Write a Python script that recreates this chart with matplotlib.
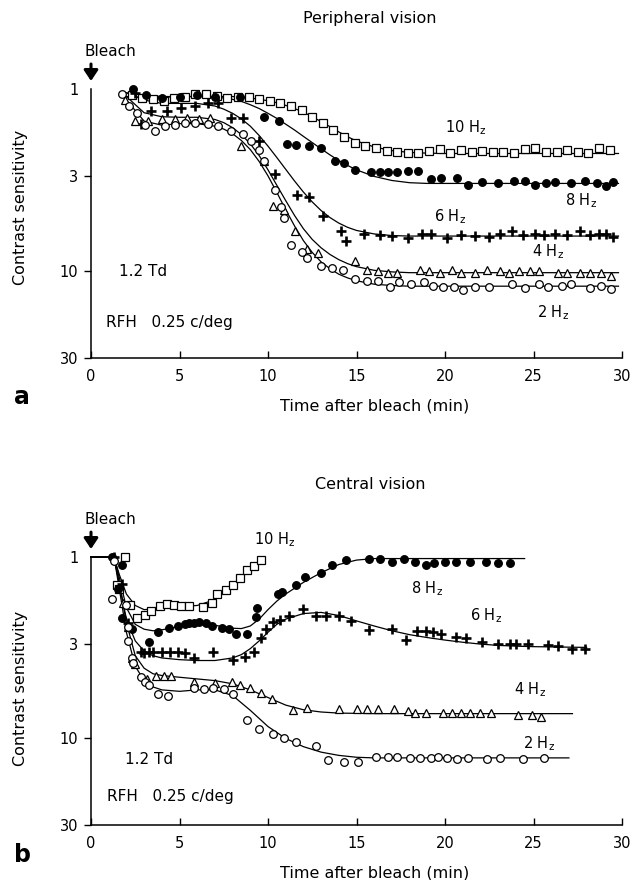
import matplotlib
matplotlib.use('Agg')
import matplotlib.pyplot as plt
from matplotlib.ticker import NullLocator, FixedLocator

plt.rcParams['font.family'] = ['DejaVu Sans']
plt.rcParams['mathtext.default'] = 'regular'

# ---------------- panel a : peripheral vision ----------------
t10a = [2.3, 2.9, 3.5, 4.1, 4.7, 5.3, 5.9, 6.5, 7.1, 7.7, 8.3, 8.9, 9.5, 10.1, 10.7, 11.3,
        11.9, 12.5, 13.1, 13.7, 14.3, 14.9, 15.5, 16.1, 16.7, 17.3, 17.9, 18.5, 19.1, 19.7,
        20.3, 20.9, 21.5, 22.1, 22.7, 23.3, 23.9, 24.5, 25.1, 25.7, 26.3, 26.9, 27.5, 28.1,
        28.7, 29.3]
cs10a = [1.08, 1.12, 1.13, 1.16, 1.12, 1.10, 1.07, 1.06, 1.09, 1.12, 1.10, 1.11, 1.14, 1.16,
         1.19, 1.24, 1.31, 1.42, 1.53, 1.68, 1.84, 1.97, 2.05, 2.12, 2.18, 2.22, 2.24, 2.25,
         2.20, 2.14, 2.24, 2.16, 2.22, 2.18, 2.21, 2.22, 2.25, 2.14, 2.10, 2.22, 2.22, 2.15,
         2.22, 2.24, 2.12, 2.16]

t8a = [2.4, 3.1, 4.0, 5.0, 6.0, 7.0, 8.4, 9.8, 10.6, 11.1, 11.6, 12.3, 13.0, 13.8, 14.3,
       14.9, 15.8, 16.3, 16.8, 17.3, 17.9, 18.5, 19.2, 19.8, 20.7, 21.3, 22.1, 23.0, 23.9,
       24.5, 25.1, 25.7, 26.2, 27.1, 27.9, 28.6, 29.1, 29.5]
cs8a = [1.00, 1.08, 1.12, 1.10, 1.08, 1.10, 1.10, 1.42, 1.50, 2.00, 2.02, 2.06, 2.10, 2.50,
        2.55, 2.80, 2.85, 2.85, 2.85, 2.85, 2.83, 2.83, 3.12, 3.08, 3.10, 3.35, 3.25, 3.27,
        3.20, 3.20, 3.35, 3.27, 3.25, 3.27, 3.20, 3.27, 3.40, 3.25]

t6a = [2.5, 2.8, 3.4, 4.3, 5.1, 5.9, 6.6, 7.2, 7.9, 8.6, 9.5, 10.4, 11.65, 12.3, 13.1, 14.1,
       14.4, 15.4, 16.3, 17.0, 17.9, 18.7, 19.2, 20.1, 20.9, 21.7, 22.5, 23.1, 23.8, 24.4,
       25.1, 25.6, 26.2, 26.9, 27.6, 28.2, 28.7, 29.1, 29.5]
cs6a = [1.05, 1.56, 1.32, 1.32, 1.27, 1.24, 1.19, 1.20, 1.44, 1.44, 1.92, 2.94, 3.84, 3.90,
        5.00, 6.00, 6.80, 6.25, 6.30, 6.40, 6.60, 6.25, 6.25, 6.60, 6.35, 6.45, 6.50, 6.25,
        6.00, 6.35, 6.25, 6.35, 6.25, 6.35, 6.00, 6.35, 6.25, 6.25, 6.50]

t4a = [1.9, 2.5, 3.2, 4.0, 4.75, 5.4, 6.1, 6.7, 8.5, 9.8, 10.3, 10.9, 11.5, 12.2, 12.8, 14.9,
       15.6, 16.2, 16.8, 17.3, 18.6, 19.1, 19.7, 20.4, 20.9, 21.7, 22.4, 23.1, 23.6, 24.2,
       24.8, 25.3, 26.4, 26.9, 27.6, 28.2, 28.8, 29.4]
cs4a = [1.15, 1.50, 1.50, 1.46, 1.46, 1.45, 1.47, 1.44, 2.05, 2.50, 4.40, 4.60, 6.00, 7.60,
        8.00, 8.80, 9.80, 10.0, 10.2, 10.2, 9.8, 10.0, 10.3, 9.8, 10.2, 10.2, 9.8, 10.0, 10.2,
        10.0, 10.0, 10.0, 10.2, 10.3, 10.2, 10.2, 10.3, 10.6]

t2a = [1.75, 2.15, 2.6, 3.05, 3.6, 4.2, 4.75, 5.3, 5.9, 6.6, 7.2, 7.9, 8.6, 9.05, 9.5, 9.8,
       10.4, 10.75, 10.9, 11.3, 11.9, 12.2, 13.0, 13.6, 14.25, 14.9, 15.6, 16.2, 16.9, 17.4,
       18.1, 18.8, 19.3, 19.9, 20.5, 21.0, 21.7, 22.5, 23.8, 24.5, 25.3, 25.8, 26.6, 27.1,
       28.2, 28.8, 29.4]
cs2a = [1.06, 1.24, 1.35, 1.57, 1.70, 1.60, 1.57, 1.53, 1.53, 1.55, 1.60, 1.70, 1.77, 1.93,
        2.16, 2.50, 3.60, 4.44, 5.10, 7.20, 7.90, 8.50, 9.40, 9.60, 9.80, 11.1, 11.3, 11.4,
        12.2, 11.5, 11.8, 11.5, 12.1, 12.2, 12.2, 12.7, 12.2, 12.2, 11.8, 12.4, 11.8, 12.2,
        12.0, 11.8, 12.4, 12.0, 12.5]

# smooth curves drawn through the data
fit_ta = [2, 3, 4, 5, 6, 7, 7.5, 8, 8.5, 9, 9.5, 10, 10.5, 11, 11.5, 12, 12.5, 13, 13.5, 14,
          14.5, 15, 16, 17, 18, 19, 20, 22, 24, 26, 28, 29.8]
fit10a = [1.10, 1.11, 1.11, 1.10, 1.10, 1.10, 1.10, 1.10, 1.11, 1.12, 1.14, 1.16, 1.19, 1.23,
          1.28, 1.34, 1.42, 1.51, 1.61, 1.72, 1.83, 1.93, 2.08, 2.18, 2.23, 2.25, 2.26, 2.26,
          2.26, 2.26, 2.26, 2.26]
fit8a = [1.05, 1.08, 1.10, 1.10, 1.10, 1.11, 1.12, 1.14, 1.17, 1.22, 1.28, 1.36, 1.45, 1.56,
         1.68, 1.82, 1.97, 2.13, 2.30, 2.47, 2.63, 2.78, 3.02, 3.18, 3.27, 3.30, 3.30, 3.30,
         3.30, 3.30, 3.30, 3.30]
fit6a = [1.05, 1.15, 1.20, 1.20, 1.20, 1.24, 1.29, 1.36, 1.46, 1.60, 1.80, 2.06, 2.38, 2.76,
         3.20, 3.68, 4.17, 4.65, 5.08, 5.45, 5.75, 5.98, 6.25, 6.38, 6.42, 6.42, 6.42, 6.42,
         6.42, 6.42, 6.42, 6.42]
fit4a = [1.10, 1.35, 1.42, 1.43, 1.43, 1.47, 1.53, 1.63, 1.78, 2.00, 2.32, 2.78, 3.38, 4.10,
         4.95, 5.85, 6.70, 7.45, 8.10, 8.65, 9.10, 9.45, 9.90, 10.1, 10.2, 10.2, 10.2, 10.2,
         10.2, 10.2, 10.2, 10.2]
fit2a = [1.15, 1.50, 1.58, 1.55, 1.55, 1.60, 1.66, 1.76, 1.92, 2.15, 2.50, 3.00, 3.70, 4.60,
         5.65, 6.80, 7.90, 8.90, 9.70, 10.4, 10.9, 11.3, 11.8, 12.0, 12.1, 12.1, 12.1, 12.1,
         12.1, 12.1, 12.1, 12.1]

# ---------------- panel b : central vision ----------------
t10b = [1.45, 1.6, 1.9, 2.2, 2.6, 3.05, 3.4, 3.9, 4.3, 4.7, 5.1, 5.55, 6.3, 6.85, 7.1, 7.6,
        8.05, 8.4, 8.8, 9.2, 9.6]
cs10b = [1.43, 1.50, 1.00, 1.84, 2.18, 2.10, 1.99, 1.86, 1.82, 1.84, 1.86, 1.86, 1.88, 1.80,
         1.60, 1.52, 1.43, 1.30, 1.18, 1.12, 1.04]

t8b = [1.2, 1.75, 1.5, 1.76, 2.3, 3.3, 3.8, 4.4, 4.9, 5.3, 5.55, 5.8, 6.1, 6.5, 6.85, 7.4,
       7.8, 8.2, 8.8, 9.35, 9.4, 10.55, 10.8, 11.6, 12.1, 13.0, 13.6, 14.4, 15.7, 16.3, 17.0,
       17.7, 18.3, 18.9, 19.4, 20.0, 20.6, 21.4, 22.3, 23.0, 23.7]
cs8b = [1.00, 1.10, 1.50, 2.17, 2.50, 2.95, 2.60, 2.45, 2.40, 2.35, 2.32, 2.30, 2.27, 2.32,
        2.40, 2.45, 2.50, 2.65, 2.65, 2.15, 1.90, 1.60, 1.55, 1.42, 1.29, 1.22, 1.10, 1.04,
        1.03, 1.03, 1.07, 1.03, 1.06, 1.10, 1.08, 1.06, 1.06, 1.06, 1.06, 1.08, 1.08]

t6b = [1.3, 1.76, 2.1, 2.8, 3.0, 3.25, 3.5, 4.0, 4.45, 4.9, 5.3, 5.8, 6.9, 8.05, 8.7, 9.2,
       9.6, 9.9, 10.3, 10.7, 11.2, 12.0, 12.7, 13.3, 14.0, 14.7, 15.7, 17.0, 17.8, 18.4, 18.9,
       19.3, 19.8, 20.6, 21.2, 22.1, 23.0, 23.7, 24.0, 24.7, 25.8, 26.4, 27.2, 27.9]
cs6b = [1.00, 1.40, 2.30, 3.36, 3.40, 3.35, 3.35, 3.35, 3.35, 3.35, 3.40, 3.59, 3.36, 3.70,
        3.55, 3.35, 2.80, 2.50, 2.27, 2.22, 2.12, 1.94, 2.12, 2.12, 2.12, 2.25, 2.54, 2.50,
        2.85, 2.55, 2.57, 2.60, 2.65, 2.75, 2.80, 2.95, 3.00, 3.00, 3.00, 3.00, 3.05, 3.10,
        3.20, 3.22]

t4b = [1.8, 2.1, 2.3, 2.5, 3.15, 3.7, 4.15, 4.5, 5.8, 7.0, 7.95, 8.4, 9.0, 9.6, 10.2, 11.4,
       12.2, 14.0, 15.0, 15.6, 16.2, 17.1, 17.9, 18.3, 18.9, 19.9, 20.4, 20.9, 21.4, 22.0,
       22.6, 24.1, 24.9, 25.4]
cs4b = [1.80, 2.43, 3.60, 3.90, 4.70, 4.50, 4.50, 4.50, 4.90, 4.95, 4.90, 5.10, 5.30, 5.60,
        6.10, 7.00, 6.80, 6.90, 6.90, 6.90, 6.90, 6.90, 7.10, 7.20, 7.20, 7.20, 7.20, 7.20,
        7.20, 7.20, 7.20, 7.40, 7.40, 7.60]

t2b = [1.3, 1.2, 1.95, 2.1, 2.1, 2.3, 2.4, 2.8, 3.05, 3.25, 3.8, 4.35, 5.8, 6.4, 6.9, 7.5,
       8.05, 8.8, 9.5, 10.3, 10.9, 11.6, 12.7, 13.4, 14.3, 15.1, 16.1, 16.8, 17.3, 18.0, 18.6,
       19.2, 19.6, 20.1, 20.7, 21.3, 22.4, 23.1, 24.4, 25.6]
cs2b = [1.05, 1.70, 1.85, 2.43, 2.90, 3.60, 3.84, 4.60, 4.90, 5.10, 5.70, 5.80, 5.30, 5.35,
        5.30, 5.35, 5.70, 7.90, 8.90, 9.50, 10.0, 10.5, 11.0, 13.1, 13.5, 13.5, 12.6, 12.7,
        12.6, 12.8, 12.8, 12.9, 12.6, 12.9, 13.0, 12.8, 13.0, 12.8, 13.0, 12.9]

fit10b_t = [0, 1.3, 1.6, 2.0, 2.5, 3, 4, 5, 6, 7, 8, 9, 9.7]
fit10b = [1.0, 1.0, 1.25, 1.6, 1.85, 1.95, 1.92, 1.88, 1.85, 1.72, 1.45, 1.17, 1.0]
fit8b_t = [0, 1.3, 1.6, 2.0, 2.5, 3, 3.5, 4, 5, 6, 7, 8, 8.5, 9, 9.5, 10, 10.5, 11, 12, 13,
           14, 15, 16, 18, 20, 22, 24.5]
fit8b = [1.0, 1.0, 1.3, 1.9, 2.35, 2.5, 2.55, 2.52, 2.42, 2.36, 2.38, 2.47, 2.48, 2.4, 2.2,
         1.95, 1.75, 1.6, 1.38, 1.22, 1.1, 1.04, 1.02, 1.02, 1.02, 1.02, 1.02]
fit6b_t = [0, 1.3, 1.6, 2, 2.5, 3, 3.5, 4, 5, 6, 7, 8, 8.5, 9, 9.5, 10, 10.5, 11, 12, 13, 14,
           15, 16, 17, 18, 19, 20, 21, 22, 23, 24, 25, 26, 27, 28]
fit6b = [1.0, 1.0, 1.4, 2.2, 2.9, 3.3, 3.5, 3.6, 3.68, 3.72, 3.72, 3.6, 3.45, 3.2, 2.9, 2.6,
         2.35, 2.2, 2.05, 2.02, 2.1, 2.25, 2.4, 2.55, 2.68, 2.78, 2.87, 2.95, 3.02, 3.07, 3.1,
         3.12, 3.13, 3.14, 3.15]
fit4b_t = [0, 1.3, 1.6, 2, 2.5, 3, 3.5, 4, 5, 6, 7, 8, 9, 10, 11, 12, 13, 14, 16, 18, 20, 22,
           24, 26, 27.2]
fit4b = [1.0, 1.0, 1.4, 2.3, 3.5, 4.1, 4.4, 4.5, 4.6, 4.7, 4.8, 5.0, 5.4, 5.95, 6.55, 6.95,
         7.15, 7.25, 7.3, 7.3, 7.3, 7.3, 7.3, 7.3, 7.3]
fit2b_t = [0, 1.3, 1.6, 2, 2.5, 3, 3.5, 4, 5, 6, 7, 8, 9, 10, 11, 12, 13, 14, 15, 16, 18, 20,
           22, 24, 26, 27]
fit2b = [1.0, 1.0, 1.5, 2.6, 4.0, 4.8, 5.2, 5.4, 5.5, 5.4, 5.4, 5.8, 7.0, 8.6, 10.0, 11.1,
         11.9, 12.4, 12.7, 12.8, 12.8, 12.8, 12.8, 12.8, 12.8, 12.8]

freq_labels = ['10 H$_z$', '8 H$_z$', '6 H$_z$', '4 H$_z$', '2 H$_z$']
label_pos_a = [(20.0, 1.62), (26.8, 4.1), (19.4, 5.0), (24.9, 7.8), (25.2, 17.0)]
label_pos_b = [(9.2, 0.80), (18.1, 1.5), (21.4, 2.1), (23.9, 5.4), (24.4, 10.7)]

ytick_vals = [1, 3, 10, 30]
ytick_text = ['1', '3', '10', '30']
xtick_vals = [0, 5, 10, 15, 20, 25, 30]

styles = [
    dict(marker='s', ms=5.5, mfc='white', mec='black', mew=0.9, ls='none'),
    dict(marker='o', ms=5.5, mfc='black', mec='black', mew=0.9, ls='none'),
    dict(marker='+', ms=7.5, mec='black', mew=1.9, ls='none'),
    dict(marker='^', ms=6.0, mfc='white', mec='black', mew=0.9, ls='none'),
    dict(marker='o', ms=5.5, mfc='white', mec='black', mew=0.9, ls='none'),
]


def draw_panel(ax, data, fits, lab_pos, ylab_y):
    for ft, fv in fits:
        ax.plot(ft, fv, color='black', lw=0.9, zorder=2, clip_on=False)
    for (t, v), st in zip(data, styles):
        ax.plot(t, v, zorder=3, clip_on=False, **st)
    for txt, (x, y) in zip(freq_labels, lab_pos):
        ax.text(x, y, txt, fontsize=10.5, ha='left', va='center', clip_on=False)

    ax.set_yscale('log')
    ax.set_ylim(30, 1)
    ax.set_xlim(0, 30)
    ax.set_yticks(ytick_vals)
    ax.set_yticklabels(ytick_text)
    # the top tick (at 1) points inwards, the others outwards
    ax.yaxis.set_minor_locator(FixedLocator([1]))
    ax.yaxis.set_minor_formatter(plt.NullFormatter())
    ax.yaxis.get_major_ticks()[0].tick1line.set_visible(False)
    ax.set_xticks(xtick_vals)
    ax.tick_params(axis='x', direction='in', length=5, width=1, pad=8, labelsize=10.5)
    ax.tick_params(axis='y', which='major', direction='out', length=5, width=1, pad=4,
                   labelsize=10.5)
    ax.tick_params(axis='y', which='minor', direction='in', length=6, width=1.1)
    for s in ['top', 'right']:
        ax.spines[s].set_visible(False)
    for s in ['left', 'bottom']:
        ax.spines[s].set_linewidth(1.1)

    ax.set_xlabel('Time after bleach (min)', fontsize=11.5)
    ax.xaxis.set_label_coords(0.535, -0.15)
    ax.set_ylabel('Contrast sensitivity', fontsize=11.5)
    ax.yaxis.set_label_coords(-0.118, ylab_y)

    ax.annotate('', xy=(0, 1 + 8 / 269), xycoords='axes fraction',
                xytext=(0, 1 + 25 / 269), textcoords='axes fraction',
                arrowprops=dict(arrowstyle='-|>,head_width=0.3,head_length=0.45',
                                lw=2.2, color='black', shrinkA=0, shrinkB=0,
                                mutation_scale=14),
                annotation_clip=False)
    ax.text(-0.012, 1 + 38 / 269, 'Bleach', transform=ax.transAxes,
            ha='left', va='center', fontsize=11)


fig = plt.figure(figsize=(6.34, 8.8), dpi=100)
ax_a = fig.add_axes([91 / 634, 1 - 358 / 880, 531 / 634, 269 / 880])
ax_b = fig.add_axes([91 / 634, 1 - 825 / 880, 531 / 634, 268 / 880])

draw_panel(ax_a,
           [(t10a, cs10a), (t8a, cs8a), (t6a, cs6a), (t4a, cs4a), (t2a, cs2a)],
           [(fit_ta, fit10a), (fit_ta, fit8a), (fit_ta, fit6a), (fit_ta, fit4a),
            (fit_ta, fit2a)],
           label_pos_a, 0.56)
draw_panel(ax_b,
           [(t10b, cs10b), (t8b, cs8b), (t6b, cs6b), (t4b, cs4b), (t2b, cs2b)],
           [(fit10b_t, fit10b), (fit8b_t, fit8b), (fit6b_t, fit6b), (fit4b_t, fit4b),
            (fit2b_t, fit2b)],
           label_pos_b, 0.51)

ax_a.text(1.6, 10, '1.2 Td', fontsize=11, ha='left', va='center')
ax_a.text(0.85, 19.2, 'RFH   0.25 c/deg', fontsize=11, ha='left', va='center')
ax_b.text(1.9, 13, '1.2 Td', fontsize=11, ha='left', va='center')
ax_b.text(0.9, 21, 'RFH   0.25 c/deg', fontsize=11, ha='left', va='center')

fig.text(370 / 634, 1 - 18 / 880, 'Peripheral vision', fontsize=11.5, ha='center', va='center')
fig.text(370 / 634, 1 - 484 / 880, 'Central vision', fontsize=11.5, ha='center', va='center')
fig.text(22 / 634, 1 - 397 / 880, 'a', fontsize=17, fontweight='bold', ha='center', va='center')
fig.text(22 / 634, 1 - 855 / 880, 'b', fontsize=17, fontweight='bold', ha='center', va='center')

fig.savefig('out.png', dpi=100)
